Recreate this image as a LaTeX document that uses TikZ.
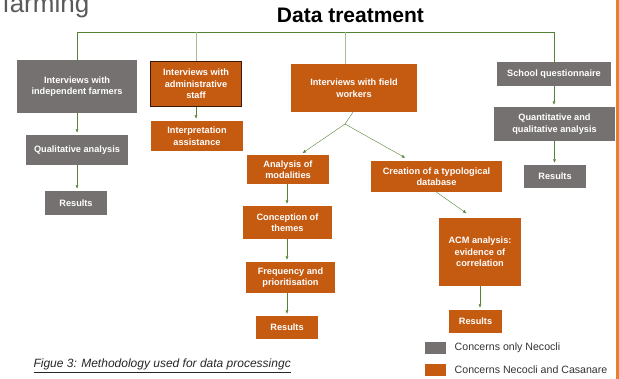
\documentclass[tikz,border=0pt]{standalone}
\usepackage{fontspec}
\setmainfont{Liberation Sans}
\usetikzlibrary{arrows.meta,positioning}
\definecolor{boxgrey}{RGB}{118,113,113}
\definecolor{boxorange}{RGB}{197,90,17}
\definecolor{boxedge}{RGB}{60,25,5}
\definecolor{linegreen}{RGB}{84,130,53}
\definecolor{palegreen}{RGB}{165,188,145}
\definecolor{barorange}{RGB}{237,125,49}
\definecolor{headgrey}{RGB}{89,89,89}

\begin{document}
\begin{tikzpicture}[x=1pt,y=-1pt,
    box/.style={rectangle,inner sep=1pt,align=center,text=white,
      font=\bfseries\fontsize{9.2}{11.5}\selectfont},
    grey/.style={box,fill=boxgrey},
    orange/.style={box,fill=boxorange},
    key/.style={rectangle,inner sep=0pt,minimum width=21pt,minimum height=12pt},
    keytext/.style={font=\fontsize{10.6}{12}\selectfont,text=black!80},
    arr/.style={linegreen,-{Latex[length=3.5pt,width=3pt]},shorten >=2pt}]
  \useasboundingbox (0,0) rectangle (619,379);
  \node[anchor=base west,font=\fontsize{26}{26}\selectfont,text=headgrey] (farming) at (-1,13) {farming};
  \node[anchor=base,font=\bfseries\fontsize{21}{21}\selectfont] (title) at (350.5,23) {Data treatment};
  \fill[barorange] (616,0) rectangle (619,379);

  % first row
  \node[grey,minimum width=120pt,minimum height=53pt] (farmers) at (77,86.5) {Interviews with\\independent farmers};
  \node[orange,draw=boxedge,line width=1pt,minimum width=91pt,minimum height=45pt] (admin) at (196,84) {Interviews with\\administrative\\staff};
  \node[orange,minimum width=126pt,minimum height=48pt] (field) at (354,88) {Interviews with field\\workers};
  \node[grey,minimum width=114pt,minimum height=24pt] (school) at (554,74) {School questionnaire};

  % left branches
  \node[orange,minimum width=92pt,minimum height=30pt] (interp) at (197,136) {Interpretation\\assistance};
  \node[grey,minimum width=102pt,minimum height=30pt] (qual) at (77,150) {Qualitative analysis};
  \node[grey,minimum width=62pt,minimum height=24pt] (res1) at (76,203) {Results};

  % field workers
  \node[orange,minimum width=82pt,minimum height=29pt] (modal) at (288,169.5) {Analysis of\\modalities};
  \node[orange,minimum width=89pt,minimum height=33pt] (themes) at (287.5,222.5) {Conception of\\themes};
  \node[orange,minimum width=89pt,minimum height=31pt] (freq) at (290.5,277.5) {Frequency and\\prioritisation};
  \node[orange,minimum width=62pt,minimum height=23pt] (res2) at (287,327.5) {Results};
  \node[orange,minimum width=131pt,minimum height=31pt] (typo) at (436.5,176.5) {Creation of a typological\\database};
  \node[orange,minimum width=82pt,minimum height=68pt] (acm) at (480,252) {ACM analysis:\\evidence of\\correlation};
  \node[orange,minimum width=53pt,minimum height=23pt] (res3) at (475.5,321.5) {Results};

  % questionnaire
  \node[grey,minimum width=121pt,minimum height=34pt] (quant) at (554.5,124) {Quantitative and\\qualitative analysis};
  \node[grey,minimum width=62pt,minimum height=23pt] (res4) at (555,176.5) {Results};

  % top line
  \coordinate (top) at (0,32);
  \coordinate (fork) at (345,124);
  \draw[linegreen] (farmers.north) |- (top -| school.north) -- (school.north);
  \draw[palegreen] (admin.north) -- (admin.north |- top);
  \draw[palegreen] ([xshift=-9pt]field.north) -- ([xshift=-9pt]field.north |- top);

  \draw[arr] (farmers) -- (qual);
  \draw[arr] (qual.south) -- (qual.south |- res1.north);
  \draw[arr] (admin) -- (admin |- interp.north);
  \draw[linegreen] ([xshift=-1pt]field.south) -- (fork);
  \draw[arr,shorten >=3pt] (fork) -- ([xshift=12pt]modal.north);
  \draw[arr,shorten >=6pt] (fork) -- ([xshift=-26pt]typo.north);
  \draw[arr] ([xshift=-1pt]modal.south) -- ([xshift=-1pt]modal.south |- themes.north);
  \draw[arr] ([xshift=-1pt]modal.south |- themes.south) -- ([xshift=-1pt]modal.south |- freq.north);
  \draw[arr] ([xshift=-1pt]modal.south |- freq.south) -- ([xshift=-1pt]modal.south |- res2.north);
  \draw[arr,shorten >=8pt] (typo.south) -- ([xshift=-7pt]acm.north);
  \draw[arr] (acm.south) -- (acm.south |- res3.north);
  \draw[arr] (school) -- (school |- quant.north);
  \draw[arr] (quant.south) -- (quant.south |- res4.north);

  % legend
  \node[key,fill=boxgrey] (keygrey) at (435.5,348) {};
  \node[keytext,right=5pt of keygrey] (keygreytext) {Concerns only Necocli};
  \node[key,fill=boxorange] (keyorange) at (435.5,370) {};
  \node[keytext,right=5pt of keyorange] (keyorangetext) {Concerns Necocli and Casanare};

  \node[anchor=base west,font=\itshape\fontsize{12}{13}\selectfont,text=black!85] (caption) at (30,368) {\underline{Figue 3: Methodology used for data processingc}};
\end{tikzpicture}
\end{document}
